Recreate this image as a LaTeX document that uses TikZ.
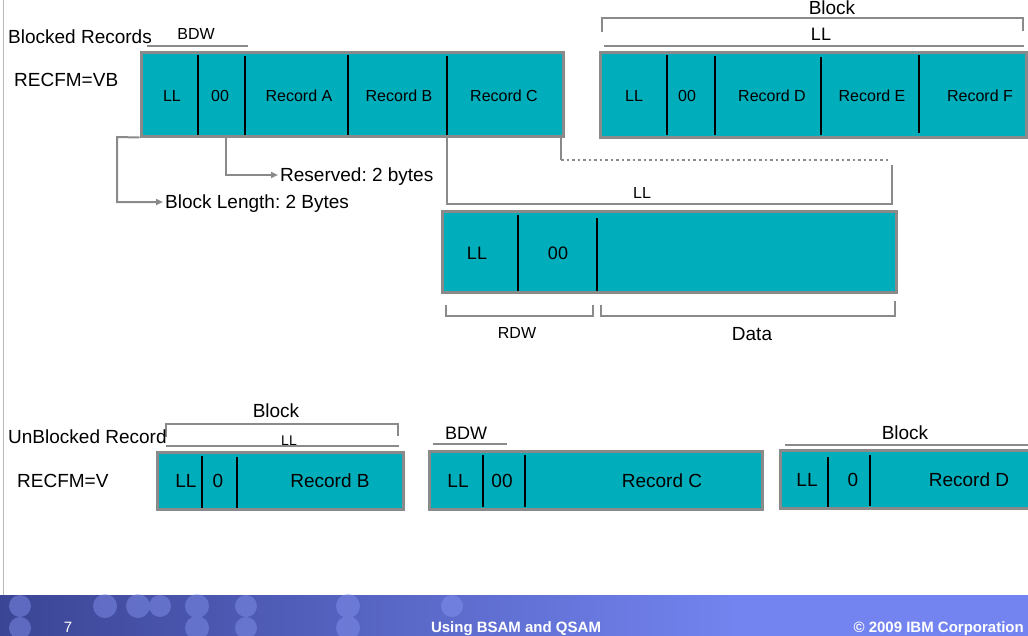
\documentclass[tikz,border=0pt]{standalone}
\usepackage{fontspec}
\setmainfont{Liberation Sans}
\usepackage{xcolor}
\usepackage{tikz}
\usetikzlibrary{arrows.meta, calc}
\frenchspacing

\definecolor{recteal}{HTML}{00ADBB}
\definecolor{framegray}{HTML}{8A8A8A}
\definecolor{bandblue}{HTML}{7384F0}
\definecolor{banddark}{HTML}{3B4595}
\newcommand{\pxfont}[1]{\fontsize{#1pt}{#1pt}\selectfont}

\begin{document}
\begin{tikzpicture}[
  x=1pt, y=-1pt,
  txt/.style={inner sep=0pt, font=\pxfont{#1}, text height={0.716*#1pt}, text depth=0pt},
  recbox/.style={draw=framegray, fill=recteal, line width=3pt, inner sep=0pt},
  divider/.style={black, line width=2.6pt},
  bracket/.style={framegray, line width=2.6pt},
  conn/.style={framegray, line width=2pt},
  arrow/.style={conn, -{Triangle[length=7pt, width=6pt]}},
]
\useasboundingbox (0,0) rectangle (1028,635);
\draw[framegray!60, line width=1pt] (3,0) -- (3,595);

\node[txt=19, anchor=west] (blkrec) at (8,37) {Blocked Records};
\node[txt=16] (bdwtop) at (196,34) {BDW};
\draw[bracket] (147,46) -- (248,46);
\node[txt=19, anchor=west] (fmvb) at (14,80) {RECFM=VB};

\node[recbox, minimum width=422pt, minimum height=84pt] (blkone) at (352,94) {};
\draw[divider] (198,55) -- (198,135);
\draw[divider] (245,56) -- (245,135);
\draw[divider] (348,55) -- (348,135);
\draw[divider] (447,56) -- (447,135);
\node[txt=16] (llone) at (172,96) {LL};
\node[txt=16] (zzone) at (220,96) {00};
\node[txt=16] (reca) at (299,96) {Record A};
\node[txt=16] (recb) at (399,96) {Record B};
\node[txt=16] (recc) at (504,96) {Record C};

\node[txt=19] (blktop) at (832,7.5) {Block};
\draw[bracket] (602,32) -- (602,18) -- (1023,18) -- (1023,31);
\node[txt=18] (lltop) at (821,34) {LL};
\draw[bracket] (604,46) -- (1024,46);
\node[recbox, minimum width=426pt, minimum height=85pt] (blktwo) at (813,94.5) {};
\draw[divider] (667,55) -- (667,135);
\draw[divider] (715,56) -- (715,135);
\draw[divider] (821,57) -- (821,135);
\draw[divider] (919,55) -- (919,133);
\node[txt=16] (lltwo) at (634,96) {LL};
\node[txt=16] (zztwo) at (687,96) {00};
\node[txt=16] (recd) at (772,96) {Record D};
\node[txt=16] (rece) at (872,96) {Record E};
\node[txt=16] (recf) at (980,96) {Record F};

\node[txt=19, anchor=west, inner xsep=2pt] (resv) at (278,175) {Reserved: 2 bytes};
\node[txt=19, anchor=west, inner xsep=2pt] (blen) at (163,202) {Block Length: 2 Bytes};
\coordinate (zzfoot) at (226,137);
\draw[arrow] (blkone.south west) -- (117,137) |- (blen.west);
\draw[arrow] (zzfoot) |- (resv.west);

\coordinate (recleft) at (447,137);
\coordinate (recright) at (561,137);
\draw[bracket] (recleft) -- (447,204) -- (892,204) -- (892,165);
\draw[conn] (recright) -- (561,160);
\draw[conn, dash pattern=on 2.5pt off 3pt] (561,160) -- (890,160);
\node[txt=16] (llrec) at (642,193) {LL};

\node[recbox, minimum width=454pt, minimum height=81pt] (rdwbox) at (669,251.5) {};
\draw[divider] (518,215) -- (518,291);
\draw[divider] (597,218) -- (597,291);
\node[txt=18] (llrdw) at (477,253) {LL};
\node[txt=18] (zzrdw) at (558,253) {00};
\draw[bracket] (446,305) -- (446,316) -- (593,316) -- (593,305);
\draw[bracket] (601,305) -- (601,316) -- (895,316) -- (895,301);
\node[txt=16] (rdwlbl) at (517,333) {RDW};
\node[txt=19] (datalbl) at (752,334) {Data};

\node[txt=19] (blkbot) at (276,411) {Block};
\draw[bracket] (166,437) -- (166,424) -- (398,424) -- (398,436);
\node[txt=19, anchor=west] (unblk) at (8,437) {UnBlocked Record};
\node[txt=14] (llbot) at (289,440) {LL};
\draw[bracket] (166,446) -- (399,446);
\node[txt=19, anchor=west] (fmv) at (17,481) {RECFM=V};

\node[recbox, minimum width=246pt, minimum height=57pt] (vone) at (280,480.5) {};
\draw[divider] (202,456) -- (202,508);
\draw[divider] (237,457) -- (237,508);
\node[txt=19] (llv1) at (186,481) {LL};
\node[txt=19] (zzv1) at (218,481) {0};
\node[txt=19] (recvb) at (330,481) {Record B};

\node[txt=18] (bdwbot) at (466,433) {BDW};
\draw[bracket] (433,444) -- (507,444);
\node[recbox, minimum width=333pt, minimum height=58pt] (vtwo) at (595.5,480) {};
\draw[divider] (483,455) -- (483,507);
\draw[divider] (525,455) -- (525,507);
\node[txt=19] (llv2) at (458,481) {LL};
\node[txt=19] (zzv2) at (502,481) {00};
\node[txt=19] (recvc) at (662,481) {Record C};

\node[txt=19] (blkright) at (905,433) {Block};
\draw[bracket] (785,445) -- (1030,445);
\node[recbox, minimum width=254pt, minimum height=58pt] (vthree) at (907,479) {};
\draw[divider] (828,457) -- (828,507);
\draw[divider] (870,455) -- (870,506);
\node[txt=19] (llv3) at (807,480) {LL};
\node[txt=19] (zzv3) at (853,480) {0};
\node[txt=19] (recvd) at (969,480) {Record D};

\fill[bandblue] (0,595) rectangle (1034,640);
\shade[left color=banddark, right color=bandblue] (0,595) rectangle (740,640);
\fill[bandblue!85!white, opacity=0.45] (20,606) circle (11pt) (20,628) circle (11pt)
  (105,606) circle (12pt) (138,606) circle (12pt) (160,606) circle (11pt)
  (197,606) circle (12pt) (197,628) circle (12pt) (246,606) circle (11pt)
  (246,628) circle (11pt) (348,606) circle (12pt) (348,628) circle (12pt)
  (452,606) circle (11pt);
\node[txt=15, text=white, anchor=base] (pgnum) at (68,632) {7};
\node[txt=15, font=\pxfont{15}\bfseries, text=white, anchor=base] (foottitle) at (516,632) {Using BSAM and QSAM};
\node[txt=15, font=\pxfont{15}\bfseries, text=white, anchor=base east] (footcopy) at (1024,632) {© 2009 IBM Corporation};
\end{tikzpicture}
\end{document}
